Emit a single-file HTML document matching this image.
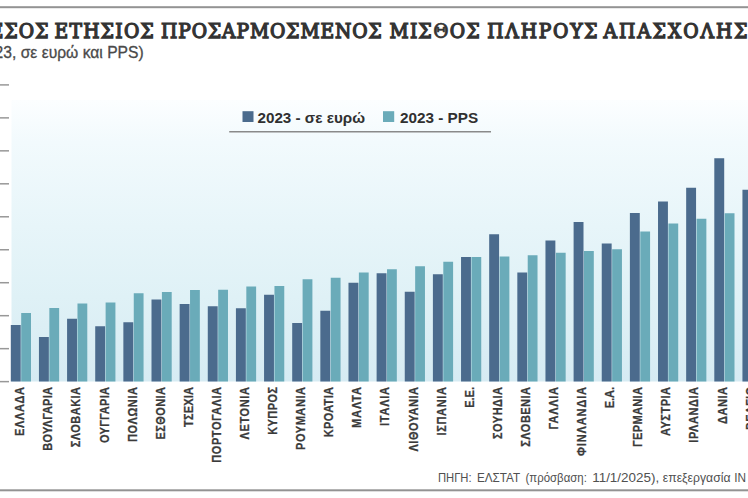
<!DOCTYPE html>
<html lang="el"><head><meta charset="utf-8"><title>chart</title>
<style>
html,body{margin:0;padding:0;background:#fff;}
body{width:748px;height:498px;overflow:hidden;}
svg{display:block;}
text{font-family:"Liberation Sans",sans-serif;}
.t{font-family:"DejaVu Serif Condensed","DejaVu Serif","Liberation Serif",serif;font-weight:normal;font-size:20.8px;fill:#333;stroke:#333;stroke-width:1.25px;stroke-linejoin:miter;}
.src{font-size:13.2px;fill:#505050;}
.lb{font-size:12.6px;font-weight:bold;fill:#3a3a3a;stroke:#3a3a3a;stroke-width:0.25px;}
</style></head><body>
<svg width="748" height="498" viewBox="0 0 748 498">
<defs><linearGradient id="g" x1="0" y1="0" x2="0" y2="1">
<stop offset="0" stop-color="#fcfeff"/><stop offset="0.15" stop-color="#f2fafd"/><stop offset="0.45" stop-color="#e7f5f9"/><stop offset="0.7" stop-color="#dff1f6"/><stop offset="1" stop-color="#d6ebf3"/></linearGradient></defs>
<rect x="0" y="0" width="748" height="498" fill="#ffffff"/>
<rect x="11.5" y="100" width="736.5" height="281.5" fill="url(#g)"/>
<rect x="0" y="6.2" width="748" height="2" fill="#939393"/>
<rect x="0" y="489.3" width="748" height="2" fill="#939393"/>
<text class="t" x="-30.6" y="38.4" textLength="79.09" lengthAdjust="spacing">ΜΕΣΟΣ</text>
<text class="t" x="54.5" y="38.4" textLength="99.29" lengthAdjust="spacing">ΕΤΗΣΙΟΣ</text>
<text class="t" x="161" y="38.4" textLength="220.84" lengthAdjust="spacing">ΠΡΟΣΑΡΜΟΣΜΕΝΟΣ</text>
<text class="t" x="389.4" y="38.4" textLength="90.30" lengthAdjust="spacing">ΜΙΣ<tspan stroke-width="0.7">Θ</tspan>ΟΣ</text>
<text class="t" x="487.3" y="38.4" textLength="110.20" lengthAdjust="spacing">ΠΛΗΡΟΥΣ</text>
<text class="t" x="603.6" y="38.4" textLength="177.37" lengthAdjust="spacing">ΑΠΑΣΧΟΛΗΣΗΣ</text>
<text x="-28" y="58.3" font-size="15.6" fill="#4a4a4a" stroke="#4a4a4a" stroke-width="0.3" textLength="171.7" lengthAdjust="spacingAndGlyphs">(2023, σε ευρώ και PPS)</text>
<rect x="0" y="84.15" width="9" height="1.5" fill="#989898"/>
<rect x="0" y="117.12" width="9" height="1.5" fill="#989898"/>
<rect x="0" y="150.09" width="9" height="1.5" fill="#989898"/>
<rect x="0" y="183.06" width="9" height="1.5" fill="#989898"/>
<rect x="0" y="216.03" width="9" height="1.5" fill="#989898"/>
<rect x="0" y="249.00" width="9" height="1.5" fill="#989898"/>
<rect x="0" y="281.97" width="9" height="1.5" fill="#989898"/>
<rect x="0" y="314.94" width="9" height="1.5" fill="#989898"/>
<rect x="0" y="347.91" width="9" height="1.5" fill="#989898"/>
<rect x="0" y="380.88" width="9" height="1.5" fill="#989898"/>
<rect x="10.80" y="325" width="9.9" height="56.50" fill="#4b6b8d"/><rect x="21.20" y="313" width="9.8" height="68.50" fill="#6aabb9"/>
<rect x="38.94" y="337" width="9.9" height="44.50" fill="#4b6b8d"/><rect x="49.34" y="308" width="9.8" height="73.50" fill="#6aabb9"/>
<rect x="67.08" y="318.75" width="9.9" height="62.75" fill="#4b6b8d"/><rect x="77.48" y="303.5" width="9.8" height="78.00" fill="#6aabb9"/>
<rect x="95.22" y="326.25" width="9.9" height="55.25" fill="#4b6b8d"/><rect x="105.62" y="302.5" width="9.8" height="79.00" fill="#6aabb9"/>
<rect x="123.36" y="322.25" width="9.9" height="59.25" fill="#4b6b8d"/><rect x="133.76" y="293.25" width="9.8" height="88.25" fill="#6aabb9"/>
<rect x="151.50" y="299.5" width="9.9" height="82.00" fill="#4b6b8d"/><rect x="161.90" y="292" width="9.8" height="89.50" fill="#6aabb9"/>
<rect x="179.64" y="304" width="9.9" height="77.50" fill="#4b6b8d"/><rect x="190.04" y="290" width="9.8" height="91.50" fill="#6aabb9"/>
<rect x="207.78" y="306.25" width="9.9" height="75.25" fill="#4b6b8d"/><rect x="218.18" y="289.75" width="9.8" height="91.75" fill="#6aabb9"/>
<rect x="235.92" y="308.25" width="9.9" height="73.25" fill="#4b6b8d"/><rect x="246.32" y="286.5" width="9.8" height="95.00" fill="#6aabb9"/>
<rect x="264.06" y="294.75" width="9.9" height="86.75" fill="#4b6b8d"/><rect x="274.46" y="286" width="9.8" height="95.50" fill="#6aabb9"/>
<rect x="292.20" y="323" width="9.9" height="58.50" fill="#4b6b8d"/><rect x="302.60" y="279.25" width="9.8" height="102.25" fill="#6aabb9"/>
<rect x="320.34" y="310.75" width="9.9" height="70.75" fill="#4b6b8d"/><rect x="330.74" y="277.75" width="9.8" height="103.75" fill="#6aabb9"/>
<rect x="348.48" y="282.75" width="9.9" height="98.75" fill="#4b6b8d"/><rect x="358.88" y="272.5" width="9.8" height="109.00" fill="#6aabb9"/>
<rect x="376.62" y="273.25" width="9.9" height="108.25" fill="#4b6b8d"/><rect x="387.02" y="269.25" width="9.8" height="112.25" fill="#6aabb9"/>
<rect x="404.76" y="291.75" width="9.9" height="89.75" fill="#4b6b8d"/><rect x="415.16" y="266.25" width="9.8" height="115.25" fill="#6aabb9"/>
<rect x="432.90" y="274.25" width="9.9" height="107.25" fill="#4b6b8d"/><rect x="443.30" y="261.75" width="9.8" height="119.75" fill="#6aabb9"/>
<rect x="461.04" y="257" width="9.9" height="124.50" fill="#4b6b8d"/><rect x="471.44" y="257" width="9.8" height="124.50" fill="#6aabb9"/>
<rect x="489.18" y="234.25" width="9.9" height="147.25" fill="#4b6b8d"/><rect x="499.58" y="256.5" width="9.8" height="125.00" fill="#6aabb9"/>
<rect x="517.32" y="272.5" width="9.9" height="109.00" fill="#4b6b8d"/><rect x="527.72" y="255.25" width="9.8" height="126.25" fill="#6aabb9"/>
<rect x="545.46" y="240.5" width="9.9" height="141.00" fill="#4b6b8d"/><rect x="555.86" y="252.75" width="9.8" height="128.75" fill="#6aabb9"/>
<rect x="573.60" y="222" width="9.9" height="159.50" fill="#4b6b8d"/><rect x="584.00" y="251" width="9.8" height="130.50" fill="#6aabb9"/>
<rect x="601.74" y="243.5" width="9.9" height="138.00" fill="#4b6b8d"/><rect x="612.14" y="249.25" width="9.8" height="132.25" fill="#6aabb9"/>
<rect x="629.88" y="213" width="9.9" height="168.50" fill="#4b6b8d"/><rect x="640.28" y="231.5" width="9.8" height="150.00" fill="#6aabb9"/>
<rect x="658.02" y="201.5" width="9.9" height="180.00" fill="#4b6b8d"/><rect x="668.42" y="223.5" width="9.8" height="158.00" fill="#6aabb9"/>
<rect x="686.16" y="187.75" width="9.9" height="193.75" fill="#4b6b8d"/><rect x="696.56" y="218.75" width="9.8" height="162.75" fill="#6aabb9"/>
<rect x="714.30" y="158.25" width="9.9" height="223.25" fill="#4b6b8d"/><rect x="724.70" y="213.25" width="9.8" height="168.25" fill="#6aabb9"/>
<rect x="742.44" y="189.75" width="9.9" height="191.75" fill="#4b6b8d"/><rect x="752.84" y="215" width="9.8" height="166.50" fill="#6aabb9"/>
<rect x="242.5" y="111.2" width="11" height="10.8" fill="#4b6b8d"/>
<text x="257.5" y="122.5" font-size="14" font-weight="bold" fill="#303030" textLength="107.5" lengthAdjust="spacingAndGlyphs">2023 - σε ευρώ</text>
<rect x="383" y="111.2" width="11.2" height="10.8" fill="#6aabb9"/>
<text x="400" y="122.5" font-size="14" font-weight="bold" fill="#303030" textLength="78.2" lengthAdjust="spacingAndGlyphs">2023 - PPS</text>
<rect x="229.2" y="131" width="261.8" height="1.5" fill="#8a8a8a"/>
<text class="lb" transform="translate(24.30,436.00) rotate(-90) scale(0.87,1)" textLength="56.32" lengthAdjust="spacing">ΕΛΛΑΔΑ</text>
<text class="lb" transform="translate(52.39,450.75) rotate(-90) scale(0.87,1)" textLength="73.28" lengthAdjust="spacing">ΒΟΥΛΓΑΡΙΑ</text>
<text class="lb" transform="translate(80.48,447.25) rotate(-90) scale(0.87,1)" textLength="69.25" lengthAdjust="spacing">ΣΛΟΒΑΚΙΑ</text>
<text class="lb" transform="translate(108.57,443.00) rotate(-90) scale(0.87,1)" textLength="64.37" lengthAdjust="spacing">ΟΥΓΓΑΡΙΑ</text>
<text class="lb" transform="translate(136.66,442.00) rotate(-90) scale(0.87,1)" textLength="63.22" lengthAdjust="spacing">ΠΟΛΩΝΙΑ</text>
<text class="lb" transform="translate(164.75,439.50) rotate(-90) scale(0.87,1)" textLength="60.34" lengthAdjust="spacing">ΕΣΘΟΝΙΑ</text>
<text class="lb" transform="translate(192.84,427.00) rotate(-90) scale(0.87,1)" textLength="45.98" lengthAdjust="spacing">ΤΣΕΧΙΑ</text>
<text class="lb" transform="translate(220.93,462.75) rotate(-90) scale(0.87,1)" textLength="87.07" lengthAdjust="spacing">ΠΟΡΤΟΓΑΛΙΑ</text>
<text class="lb" transform="translate(249.02,439.50) rotate(-90) scale(0.87,1)" textLength="60.34" lengthAdjust="spacing">ΛΕΤΟΝΙΑ</text>
<text class="lb" transform="translate(277.11,434.75) rotate(-90) scale(0.87,1)" textLength="54.89" lengthAdjust="spacing">ΚΥΠΡΟΣ</text>
<text class="lb" transform="translate(305.20,450.00) rotate(-90) scale(0.87,1)" textLength="72.41" lengthAdjust="spacing">ΡΟΥΜΑΝΙΑ</text>
<text class="lb" transform="translate(333.29,437.25) rotate(-90) scale(0.87,1)" textLength="57.76" lengthAdjust="spacing">ΚΡΟΑΤΙΑ</text>
<text class="lb" transform="translate(361.38,428.00) rotate(-90) scale(0.87,1)" textLength="47.13" lengthAdjust="spacing">ΜΑΛΤΑ</text>
<text class="lb" transform="translate(389.47,426.00) rotate(-90) scale(0.87,1)" textLength="44.83" lengthAdjust="spacing">ΙΤΑΛΙΑ</text>
<text class="lb" transform="translate(417.56,451.50) rotate(-90) scale(0.87,1)" textLength="74.14" lengthAdjust="spacing">ΛΙΘΟΥΑΝΙΑ</text>
<text class="lb" transform="translate(445.65,435.50) rotate(-90) scale(0.87,1)" textLength="55.75" lengthAdjust="spacing">ΙΣΠΑΝΙΑ</text>
<text class="lb" transform="translate(473.74,407.75) rotate(-90) scale(0.87,1)" textLength="23.85" lengthAdjust="spacing">Ε.Ε.</text>
<text class="lb" transform="translate(501.83,439.00) rotate(-90) scale(0.87,1)" textLength="59.77" lengthAdjust="spacing">ΣΟΥΗΔΙΑ</text>
<text class="lb" transform="translate(529.92,446.75) rotate(-90) scale(0.87,1)" textLength="68.68" lengthAdjust="spacing">ΣΛΟΒΕΝΙΑ</text>
<text class="lb" transform="translate(558.01,429.50) rotate(-90) scale(0.87,1)" textLength="48.85" lengthAdjust="spacing">ΓΑΛΛΙΑ</text>
<text class="lb" transform="translate(586.10,456.00) rotate(-90) scale(0.87,1)" textLength="79.31" lengthAdjust="spacing">ΦΙΝΛΑΝΔΙΑ</text>
<text class="lb" transform="translate(614.19,408.25) rotate(-90) scale(0.87,1)" textLength="24.43" lengthAdjust="spacing">Ε.Α.</text>
<text class="lb" transform="translate(642.28,447.00) rotate(-90) scale(0.87,1)" textLength="68.97" lengthAdjust="spacing">ΓΕΡΜΑΝΙΑ</text>
<text class="lb" transform="translate(670.37,436.00) rotate(-90) scale(0.87,1)" textLength="56.32" lengthAdjust="spacing">ΑΥΣΤΡΙΑ</text>
<text class="lb" transform="translate(698.46,442.75) rotate(-90) scale(0.87,1)" textLength="64.08" lengthAdjust="spacing">ΙΡΛΑΝΔΙΑ</text>
<text class="lb" transform="translate(726.55,424.00) rotate(-90) scale(0.87,1)" textLength="42.53" lengthAdjust="spacing">ΔΑΝΙΑ</text>
<text class="lb" transform="translate(754.64,430.00) rotate(-90) scale(0.87,1)" textLength="49.43" lengthAdjust="spacing">ΒΕΛΓΙΟ</text>
<text class="src" x="437.9" y="482.2" textLength="33.7" lengthAdjust="spacingAndGlyphs">ΠΗΓΗ:</text>
<text class="src" x="477" y="482.2" textLength="43.2" lengthAdjust="spacingAndGlyphs">ΕΛΣΤΑΤ</text>
<text class="src" x="525.5" y="482.2" textLength="61.3" lengthAdjust="spacingAndGlyphs">(πρόσβαση:</text>
<text class="src" x="592.2" y="482.2" textLength="67.0" lengthAdjust="spacingAndGlyphs">11/1/2025),</text>
<text class="src" x="662.8" y="482.2" textLength="67.7" lengthAdjust="spacingAndGlyphs">επεξεργασία</text>
<text class="src" x="734.2" y="482.2" textLength="11.8" lengthAdjust="spacingAndGlyphs">IN</text>
<text class="src" x="751" y="482.2" textLength="45.0" lengthAdjust="spacingAndGlyphs">Ε ΓΣΕΕ</text>
</svg></body></html>
